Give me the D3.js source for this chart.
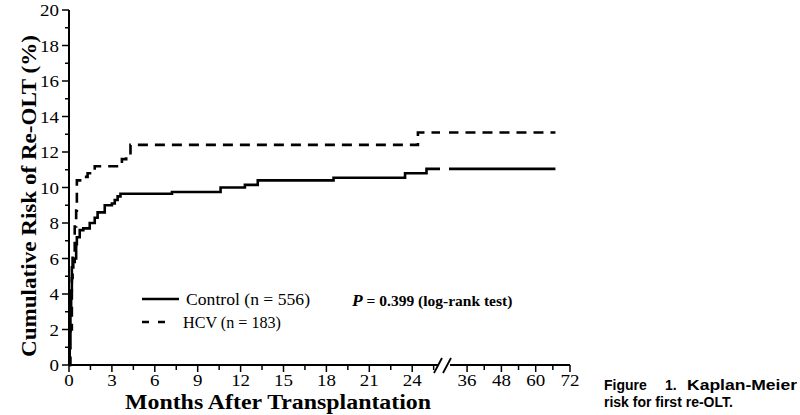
<!DOCTYPE html>
<html><head><meta charset="utf-8">
<script src="https://cdn.jsdelivr.net/npm/d3@7"></script>
<style>
body{margin:0;background:#fff;}
svg{display:block;}
</style></head>
<body>
<script>
// Data (months after transplantation, cumulative risk %)
const controlMonths = [0,0.05,0.1,0.15,0.2,0.3,0.4,0.5,0.55,0.75,1.0,1.45,1.8,2.0,2.5,3.0,3.2,3.4,3.6,7.2,10.6,12.3,13.2,18.5,23.5,25.0,66.9];
const controlRisk   = [0,1.5,3.0,4.2,5.5,5.8,6.0,6.8,7.2,7.6,7.7,8.0,8.3,8.6,9.0,9.1,9.3,9.5,9.65,9.75,10.0,10.15,10.4,10.55,10.8,11.05,11.05];
const hcvMonths = [0,0.1,0.2,0.25,0.4,0.5,0.55,0.9,1.3,1.8,3.7,4.0,4.3,24.4,66.9];
const hcvRisk   = [0,2.0,4.9,6.2,7.8,8.7,10.4,10.6,10.8,11.2,11.6,11.8,12.4,13.1,13.1];
const yTicks = [0,2,4,6,8,10,12,14,16,18,20];
const xTicksFirst = [0,3,6,9,12,15,18,21,24];
const xTicksSecond = [36,48,60,72];
const seriesNames = ["Control (n = 556)","HCV (n = 183)"];

const W=800,H=415;
const svg=d3.select("body").append("svg").attr("width",W).attr("height",H);
const x=d3.scaleLinear().domain([0,26,31,72]).range([69,440.8,452.8,570]);
const y=d3.scaleLinear().domain([0,20]).range([365,10]);
const serif="'Liberation Serif','Times New Roman',serif";

// clip for axis break
const defs=svg.append("defs");
const cp=defs.append("clipPath").attr("id","brk");
cp.append("rect").attr("x",0).attr("y",0).attr("width",440).attr("height",H);
cp.append("rect").attr("x",449).attr("y",0).attr("width",W-449).attr("height",H);

// Y axis
const ya=svg.append("g");
ya.append("line").attr("x1",69).attr("x2",69).attr("y1",y(20)).attr("y2",y(0)).attr("stroke","#000").attr("stroke-width",2);
d3.range(0,21,1).forEach(v=>{
  const major=v%2===0;
  ya.append("line").attr("x1",major?62:65).attr("x2",69).attr("y1",y(v)).attr("y2",y(v)).attr("stroke","#000").attr("stroke-width",1.5);
});
ya.selectAll("text.yt").data(yTicks).enter().append("text").attr("class","yt")
  .attr("transform",d=>`translate(59,${y(d)+6}) scale(1.15,1)`).attr("text-anchor","end")
  .attr("font-family",serif).attr("font-size",16.5).text(d=>d);

// X axis
const xa=svg.append("g");
xa.append("line").attr("x1",69).attr("x2",438).attr("y1",365).attr("y2",365).attr("stroke","#000").attr("stroke-width",2);
xa.append("line").attr("x1",450).attr("x2",570).attr("y1",365).attr("y2",365).attr("stroke","#000").attr("stroke-width",2);
// break marks
xa.append("line").attr("x1",434).attr("y1",373).attr("x2",442).attr("y2",358).attr("stroke","#000").attr("stroke-width",1.8);
xa.append("line").attr("x1",443).attr("y1",373).attr("x2",451).attr("y2",358).attr("stroke","#000").attr("stroke-width",1.8);
const minorFirst=d3.range(1.5,26,3);
xTicksFirst.concat(xTicksSecond).forEach(v=>{
  xa.append("line").attr("x1",x(v)).attr("x2",x(v)).attr("y1",365).attr("y2",372).attr("stroke","#000").attr("stroke-width",1.5);
});
minorFirst.concat([42,54,66]).forEach(v=>{
  xa.append("line").attr("x1",x(v)).attr("x2",x(v)).attr("y1",365).attr("y2",370).attr("stroke","#000").attr("stroke-width",1.5);
});
xa.selectAll("text.xt").data(xTicksFirst.concat(xTicksSecond)).enter().append("text").attr("class","xt")
  .attr("transform",d=>`translate(${x(d)},386) scale(1.15,1)`).attr("text-anchor","middle")
  .attr("font-family",serif).attr("font-size",16.5).text(d=>d);

// axis titles
svg.append("text").attr("x",278).attr("y",409).attr("text-anchor","middle")
  .attr("font-family",serif).attr("font-weight","bold").attr("font-size",20)
  .attr("textLength",306).attr("lengthAdjust","spacingAndGlyphs")
  .text("Months After Transplantation");
svg.append("text").attr("transform","translate(36,196) rotate(-90)").attr("text-anchor","middle")
  .attr("font-family",serif).attr("font-weight","bold").attr("font-size",22)
  .attr("textLength",322).attr("lengthAdjust","spacingAndGlyphs")
  .text("Cumulative Risk of Re-OLT (%)");

// curves
const line=d3.line().x(d=>x(d[0])).y(d=>y(d[1])).curve(d3.curveStepAfter);
const controlData=controlMonths.map((m,i)=>[m,controlRisk[i]]);
const hcvData=hcvMonths.map((m,i)=>[m,hcvRisk[i]]);
const g=svg.append("g").attr("clip-path","url(#brk)");
g.append("path").attr("d",line(controlData)).attr("fill","none").attr("stroke","#000").attr("stroke-width",2.6);
g.append("path").attr("d",line(hcvData)).attr("fill","none").attr("stroke","#000").attr("stroke-width",2.6).attr("stroke-dasharray","10,7");

// legend
svg.append("line").attr("x1",142).attr("x2",179).attr("y1",299).attr("y2",299).attr("stroke","#000").attr("stroke-width",2.6);
svg.append("line").attr("x1",142).attr("x2",166).attr("y1",322).attr("y2",322).attr("stroke","#000").attr("stroke-width",2.6).attr("stroke-dasharray","7,9");
svg.append("text").attr("x",186).attr("y",305).attr("font-family",serif).attr("font-size",17.5)
  .attr("textLength",124).attr("lengthAdjust","spacingAndGlyphs").text(seriesNames[0]);
svg.append("text").attr("x",183).attr("y",328).attr("font-family",serif).attr("font-size",17.5)
  .attr("textLength",98).attr("lengthAdjust","spacingAndGlyphs").text(seriesNames[1]);

// p-value
const pt=svg.append("text").attr("x",352).attr("y",306).attr("font-family",serif).attr("font-weight","bold").attr("font-size",15.5);
pt.append("tspan").attr("font-style","italic").attr("font-size",17.5).text("P");
pt.append("tspan").text(" = 0.399 (log-rank test)");

// caption
const sans="'Liberation Sans',Arial,Helvetica,sans-serif";
const c1=svg.append("text").attr("y",390).attr("font-family",sans).attr("font-weight","bold").attr("font-size",14);
c1.append("tspan").attr("x",604).text("Figure");
c1.append("tspan").attr("x",665).text("1.");
c1.append("tspan").attr("x",687).attr("textLength",110).attr("lengthAdjust","spacingAndGlyphs").text("Kaplan-Meier");
svg.append("text").attr("x",604).attr("y",407).attr("font-family",sans).attr("font-weight","bold").attr("font-size",14)
  .text("risk for first re-OLT.");
</script>
</body></html>
